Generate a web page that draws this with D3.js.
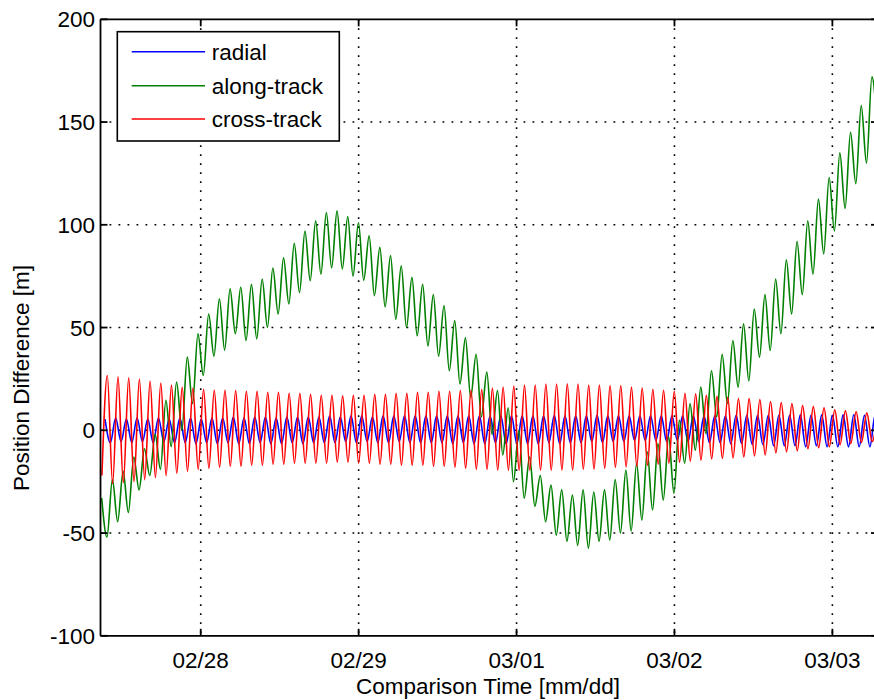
<!DOCTYPE html>
<html>
<head>
<meta charset="utf-8">
<script src="https://cdn.jsdelivr.net/npm/d3@7"></script>
<style>
  html, body { margin: 0; padding: 0; background: #fff; }
  svg { display: block; }
  text { font-family: "Liberation Sans", Arial, Helvetica, sans-serif; fill: #000; }
</style>
</head>
<body>
<svg id="chart" width="874" height="700"></svg>
<script>
// Orbit-to-orbit comparison of position differences (RIC frame), peak values per revolution.
const orbitMinutes = 97.55;                  // revolution period
const timeDomain = ["2012-02-27T08:46", "2012-03-03T06:56"];
const xTickDays = ["2012-02-28", "2012-02-29", "2012-03-01", "2012-03-02", "2012-03-03"];
const yTicks = [-100, -50, 0, 50, 100, 150, 200];
const seriesNames = ["radial", "along-track", "cross-track"];
const seriesColors = ["#0000ff", "#008000", "#ff0000"];

// epochs of the first maximum / minimum of each component
const radialHighStart = "2012-02-27T09:27";
const radialLowStart  = "2012-02-27T10:16";
const alongHighStart  = "2012-02-27T08:57";
const alongLowStart   = "2012-02-27T09:45";
const crossHighStart  = "2012-02-27T09:48";
const crossLowStart   = "2012-02-27T08:59";

// radial [m]: per-revolution maxima and minima
const radialHighs = [5.5, 6, 5.5, 6, 5.5, 6, 5.5, 6, 6, 5.5,
  6, 6, 6.5, 6, 6.5, 6.5, 6, 6.5, 6.5, 6.5,
  6.5, 7, 6.5, 7, 7, 6.5, 7, 7, 7, 7,
  7, 7, 7, 7, 7, 7, 7, 7, 7, 7,
  7, 7, 7.3, 7, 7, 7, 7.3, 7, 7, 7,
  7, 7, 7, 7, 7, 7, 7, 7, 7, 7.3,
  7.3, 7.3, 7.3, 7.3, 7.3, 7.5, 7.3, 7.5, 7.3, 7.5,
  7.5, 7.3, 7.5];
const radialLows = [-6, -5.5, -6, -5.5, -6, -5.5, -6, -6, -6.5, -6,
  -6.5, -6, -6.5, -6.5, -6, -6.5, -6.5, -6, -6.5, -6,
  -6, -6, -5.5, -6, -5.5, -6, -6, -5.5, -6, -6,
  -6, -6, -6.5, -6, -6.5, -6.5, -6, -6.5, -6.5, -6.5,
  -6.5, -6, -6.5, -6, -6, -5.5, -6, -5.5, -5.5, -5,
  -5, -5, -5.5, -5, -5.5, -5.5, -6, -6, -6.5, -6.5,
  -7, -7, -7.5, -7.5, -7.5, -8, -7.5, -8, -8, -8,
  -8, -8, -8];

// along-track [m]
const alongHighs = [-33, -24, -20, -13, -9, -2, 14.6, 23.5, 35.6, 47,
  56.6, 64, 68.8, 69.6, 71, 73.6, 79, 84, 91, 97,
  102, 106, 106.8, 104, 101, 94.7, 89, 85, 80, 74.4,
  71, 66, 60.7, 53.4, 45, 37, 28.3, 19.4, 11, 0,
  -13, -22, -26.7, -29, -31.5, -29, -30, -29, -24, -19.4,
  -16, -10.5, -6.5, -3.2, 4.9, 13, 21, 29, 37, 43.7,
  51.8, 59, 66, 73.6, 83, 92, 102, 112.5, 123, 135,
  145, 158, 172];
const alongLows = [-52, -44.5, -40, -29, -22, -19, -8, 0, 13, 26.7,
  36, 39, 47, 43.7, 44.5, 50, 56.6, 61.5, 67, 72.8,
  76, 79, 78.5, 75, 73, 65.5, 60, 54, 50, 46,
  41, 36, 29, 22.6, 16, 6.5, -2, -12, -25, -33,
  -37, -44.5, -51, -54, -56, -57.4, -54, -53.4, -50, -49,
  -43.7, -38.8, -34, -30.7, -16, -9.7, -1.6, 6.5, 13, 21,
  24, 35.6, 38.8, 47, 56.6, 66, 76, 85.8, 97, 108,
  120, 130, 148];

// cross-track [m]
const crossHighs = [26.7, 26, 25.5, 25, 24, 23, 22, 21, 20.5, 20,
  19.5, 19.5, 19.4, 19, 19, 18.5, 18.5, 18, 18, 17.5,
  17, 17, 16.8, 17, 17, 17.5, 17.5, 18, 18, 18.5,
  18.5, 19, 19, 19.4, 19.5, 20, 20.5, 21, 21.5, 22,
  22, 22.5, 22.5, 22.6, 22.5, 22, 22, 21.8, 21.8, 21,
  20.5, 20, 19.5, 19, 18, 17.8, 17, 16.5, 16, 15.5,
  15.4, 15, 14, 13.5, 13, 12, 11.5, 11, 10, 9.5,
  9, 8.5, 8];
const crossLows = [-22, -26, -25.5, -25, -24, -23, -22, -21, -20, -19,
  -18.5, -18, -17.5, -17.5, -17, -17, -16.5, -16.5, -16, -16,
  -16, -16, -15.5, -15.5, -16, -16, -16.5, -16.5, -17, -17,
  -17, -17.5, -17.5, -18, -18.5, -19, -19, -19.4, -19.5, -19.5,
  -19.5, -19.5, -19.5, -19.4, -19.4, -19, -19, -18.5, -18, -17.8,
  -17.5, -17, -16.5, -16, -15.5, -15, -14.5, -14, -13.7, -13.5,
  -13, -12.5, -12, -11, -10.5, -10, -9, -8.5, -8, -7,
  -6.5, -6, -5.5];

const series = [
  { name: seriesNames[0], color: seriesColors[0], highStart: radialHighStart, lowStart: radialLowStart, highs: radialHighs, lows: radialLows },
  { name: seriesNames[1], color: seriesColors[1], highStart: alongHighStart,  lowStart: alongLowStart,  highs: alongHighs,  lows: alongLows },
  { name: seriesNames[2], color: seriesColors[2], highStart: crossHighStart,  lowStart: crossLowStart,  highs: crossHighs,  lows: crossLows }
];

// ---- layout ----
const plot = { left: 100.5, right: 878, top: 19.3, bottom: 635.8 };
const svg = d3.select("#chart");
svg.append("rect").attr("width", 874).attr("height", 700).attr("fill", "#fff");

const parse = s => new Date(s);
const x = d3.scaleTime().domain(timeDomain.map(parse)).range([plot.left, plot.right]);
const y = d3.scaleLinear().domain([-100, 200]).range([plot.bottom, plot.top]);
const xTickDates = xTickDays.map(d => new Date(d + "T00:00"));

svg.append("clipPath").attr("id", "plotClip")
  .append("rect")
  .attr("x", plot.left).attr("y", plot.top)
  .attr("width", plot.right - plot.left).attr("height", plot.bottom - plot.top);

// dotted grid
const grid = svg.append("g").attr("stroke", "#000").attr("stroke-width", 1.6)
  .attr("stroke-dasharray", "1.8,7.2").attr("fill", "none");
grid.selectAll("line.gx").data(xTickDates).join("line").attr("class", "gx")
  .attr("x1", d => x(d)).attr("x2", d => x(d))
  .attr("y1", plot.top).attr("y2", plot.bottom);
grid.selectAll("line.gy").data(yTicks.filter(v => v > -100 && v < 200)).join("line").attr("class", "gy")
  .attr("x1", plot.left).attr("x2", plot.right)
  .attr("y1", d => y(d)).attr("y2", d => y(d));

// data lines
const periodMs = orbitMinutes * 60000;
const line = d3.line().x(d => x(d.t)).y(d => y(d.v)).curve(d3.curveMonotoneX);
const dataG = svg.append("g").attr("clip-path", "url(#plotClip)");
series.forEach(s => {
  const h0 = +parse(s.highStart), l0 = +parse(s.lowStart);
  const pts = s.highs.map((v, k) => ({ t: new Date(h0 + k * periodMs), v }))
    .concat(s.lows.map((v, k) => ({ t: new Date(l0 + k * periodMs), v })))
    .sort((a, b) => a.t - b.t);
  dataG.append("path").datum(pts)
    .attr("fill", "none").attr("stroke", s.color).attr("stroke-width", 1.6)
    .attr("stroke-linejoin", "round")
    .attr("d", line);
});

// axes box and inward ticks
const axisG = svg.append("g").attr("stroke", "#000").attr("stroke-width", 1.8).attr("fill", "none");
axisG.append("line").attr("x1", plot.left).attr("x2", plot.right).attr("y1", plot.bottom).attr("y2", plot.bottom);
axisG.append("line").attr("x1", plot.left).attr("x2", plot.right).attr("y1", plot.top).attr("y2", plot.top);
axisG.append("line").attr("x1", plot.left).attr("x2", plot.left).attr("y1", plot.top).attr("y2", plot.bottom);
axisG.append("line").attr("x1", plot.right).attr("x2", plot.right).attr("y1", plot.top).attr("y2", plot.bottom);
const tickLen = 7;
xTickDates.forEach(d => {
  axisG.append("line").attr("x1", x(d)).attr("x2", x(d)).attr("y1", plot.bottom).attr("y2", plot.bottom - tickLen);
  axisG.append("line").attr("x1", x(d)).attr("x2", x(d)).attr("y1", plot.top).attr("y2", plot.top + tickLen);
});
yTicks.forEach(v => {
  axisG.append("line").attr("x1", plot.left).attr("x2", plot.left + tickLen).attr("y1", y(v)).attr("y2", y(v));
  axisG.append("line").attr("x1", plot.right).attr("x2", plot.right - tickLen).attr("y1", y(v)).attr("y2", y(v));
});

// tick labels
const fmt = d3.timeFormat("%m/%d");
const fontSize = 22.5;
svg.append("g").selectAll("text").data(xTickDates).join("text")
  .attr("x", d => x(d)).attr("y", 668)
  .attr("text-anchor", "middle").attr("font-size", fontSize)
  .text(d => fmt(d));
svg.append("g").selectAll("text").data(yTicks).join("text")
  .attr("x", 95).attr("y", d => y(d) + 8)
  .attr("text-anchor", "end").attr("font-size", fontSize)
  .text(d => d);

// axis titles
svg.append("text").attr("x", 488).attr("y", 694).attr("text-anchor", "middle")
  .attr("font-size", fontSize).text("Comparison Time [mm/dd]");
svg.append("text").attr("transform", "translate(29,378) rotate(-90)")
  .attr("text-anchor", "middle").attr("font-size", fontSize).text("Position Difference [m]");

// legend
const lg = svg.append("g");
lg.append("rect").attr("x", 117.3).attr("y", 31.7).attr("width", 222).attr("height", 109.3)
  .attr("fill", "#fff").attr("stroke", "#000").attr("stroke-width", 1.6);
const legendY = [51.7, 85.7, 119];
series.forEach((s, i) => {
  lg.append("line").attr("x1", 131.7).attr("x2", 205).attr("y1", legendY[i]).attr("y2", legendY[i])
    .attr("stroke", s.color).attr("stroke-width", 1.6);
  lg.append("text").attr("x", 211.7).attr("y", legendY[i] + 8)
    .attr("font-size", fontSize).text(s.name);
});
</script>
</body>
</html>
